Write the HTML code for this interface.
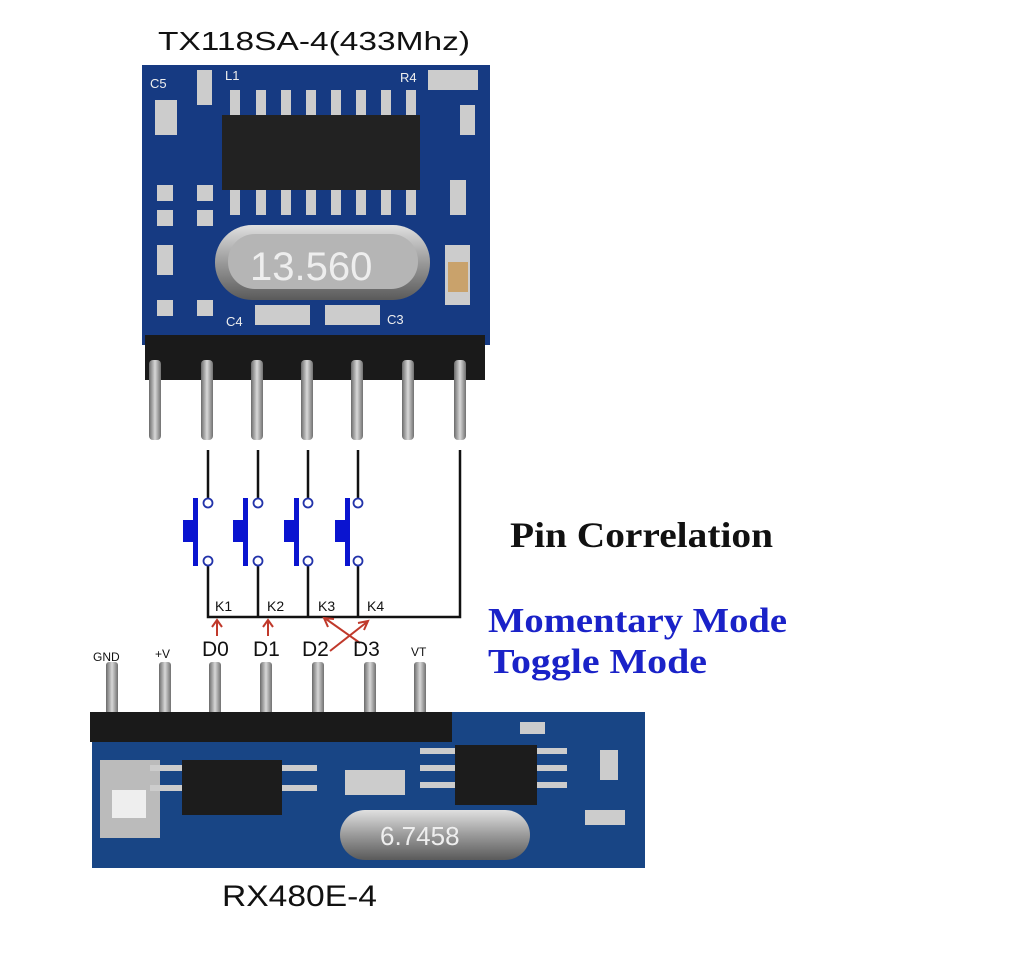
<!DOCTYPE html>
<html><head><style>body{margin:0;background:#fff}svg{display:block}</style></head><body>
<svg width="1020" height="971" viewBox="0 0 1020 971" xmlns="http://www.w3.org/2000/svg">
<defs>
<linearGradient id="pin" x1="0" x2="1"><stop offset="0" stop-color="#6a6a6a"/><stop offset=".5" stop-color="#d8d8d8"/><stop offset="1" stop-color="#707070"/></linearGradient>
<linearGradient id="xt" x1="0" y1="0" x2="0" y2="1"><stop offset="0" stop-color="#e0e0e0"/><stop offset=".5" stop-color="#9a9a9a"/><stop offset="1" stop-color="#5a5a5a"/></linearGradient>
</defs>
<text x="158" y="50" font-family="Liberation Sans,sans-serif" font-size="26" fill="#111" textLength="312" lengthAdjust="spacingAndGlyphs">TX118SA-4(433Mhz)</text>
<!-- TX board -->
<rect x="142" y="65" width="348" height="280" fill="#163a82"/>
<rect x="222" y="115" width="198" height="75" fill="#222"/>
<g fill="#ccc">
<rect x="230" y="90" width="10" height="25"/><rect x="256" y="90" width="10" height="25"/><rect x="281" y="90" width="10" height="25"/><rect x="306" y="90" width="10" height="25"/><rect x="331" y="90" width="10" height="25"/><rect x="356" y="90" width="10" height="25"/><rect x="381" y="90" width="10" height="25"/><rect x="406" y="90" width="10" height="25"/>
<rect x="230" y="190" width="10" height="25"/><rect x="256" y="190" width="10" height="25"/><rect x="281" y="190" width="10" height="25"/><rect x="306" y="190" width="10" height="25"/><rect x="331" y="190" width="10" height="25"/><rect x="356" y="190" width="10" height="25"/><rect x="381" y="190" width="10" height="25"/><rect x="406" y="190" width="10" height="25"/>
<rect x="155" y="100" width="22" height="35"/><rect x="197" y="70" width="15" height="35"/><rect x="157" y="185" width="16" height="16"/><rect x="157" y="210" width="16" height="16"/><rect x="157" y="245" width="16" height="30"/><rect x="157" y="300" width="16" height="16"/><rect x="197" y="185" width="16" height="16"/><rect x="197" y="210" width="16" height="16"/><rect x="197" y="300" width="16" height="16"/><rect x="450" y="180" width="16" height="35"/><rect x="445" y="245" width="25" height="60"/><rect x="428" y="70" width="50" height="20"/><rect x="460" y="105" width="15" height="30"/>
</g>
<rect x="448" y="262" width="20" height="30" fill="#c9a26b"/>
<rect x="215" y="225" width="215" height="75" rx="37" fill="url(#xt)"/>
<rect x="228" y="234" width="190" height="55" rx="27" fill="#b5b5b5"/>
<text x="250" y="280" font-family="Liberation Sans,sans-serif" font-size="40" fill="#eee">13.560</text>
<rect x="255" y="305" width="55" height="20" fill="#ccc"/><rect x="325" y="305" width="55" height="20" fill="#ccc"/>
<g font-family="Liberation Sans,sans-serif" font-size="13" fill="#eee"><text x="150" y="88">C5</text><text x="225" y="80">L1</text><text x="400" y="82">R4</text><text x="226" y="326">C4</text><text x="387" y="324">C3</text></g>
<rect x="145" y="335" width="340" height="45" fill="#1a1a1a"/>
<g fill="url(#pin)">
<rect x="149" y="360" width="12" height="80" rx="4"/><rect x="201" y="360" width="12" height="80" rx="4"/><rect x="251" y="360" width="12" height="80" rx="4"/><rect x="301" y="360" width="12" height="80" rx="4"/><rect x="351" y="360" width="12" height="80" rx="4"/><rect x="402" y="360" width="12" height="80" rx="4"/><rect x="454" y="360" width="12" height="80" rx="4"/>
</g>
<!-- switches -->
<g stroke="#111" stroke-width="2.5" fill="none">
<path d="M208 450V498M258 450V498M308 450V498M358 450V498M460 450V617H208V566M258 617V566M308 617V566M358 617V566"/>
</g>
<g stroke="#2233aa" stroke-width="1.8" fill="#fff">
<circle cx="208" cy="503" r="4.5"/><circle cx="258" cy="503" r="4.5"/><circle cx="308" cy="503" r="4.5"/><circle cx="358" cy="503" r="4.5"/>
<circle cx="208" cy="561" r="4.5"/><circle cx="258" cy="561" r="4.5"/><circle cx="308" cy="561" r="4.5"/><circle cx="358" cy="561" r="4.5"/>
</g>
<g fill="#0a14d0">
<rect x="193" y="498" width="5" height="68"/><rect x="183" y="520" width="11" height="22"/>
<rect x="243" y="498" width="5" height="68"/><rect x="233" y="520" width="11" height="22"/>
<rect x="294" y="498" width="5" height="68"/><rect x="284" y="520" width="11" height="22"/>
<rect x="345" y="498" width="5" height="68"/><rect x="335" y="520" width="11" height="22"/>
</g>
<g font-family="Liberation Sans,sans-serif" font-size="14" fill="#111"><text x="215" y="611">K1</text><text x="267" y="611">K2</text><text x="318" y="611">K3</text><text x="367" y="611">K4</text></g>
<g stroke="#c0392b" stroke-width="2" fill="none">
<path d="M217 636V621M212 627L217 620L222 627"/>
<path d="M268 636V621M263 627L268 620L273 627"/>
<path d="M330 651L367 622M358 623L368 621L364 630"/>
<path d="M360 643L326 619M328 627L324 618L334 619"/>
</g>
<g font-family="Liberation Sans,sans-serif" fill="#111"><text x="202" y="656" font-size="21">D0</text><text x="253" y="656" font-size="21">D1</text><text x="302" y="656" font-size="21">D2</text><text x="353" y="656" font-size="21">D3</text>
<text x="93" y="661" font-size="12">GND</text><text x="155" y="658" font-size="12">+V</text><text x="411" y="656" font-size="12">VT</text></g>
<text x="510" y="547" font-family="Liberation Serif,serif" font-weight="bold" font-size="36" fill="#111" textLength="263" lengthAdjust="spacingAndGlyphs">Pin Correlation</text>
<text x="488" y="632" font-family="Liberation Serif,serif" font-weight="bold" font-size="35" fill="#1a22c8" textLength="299" lengthAdjust="spacingAndGlyphs">Momentary Mode</text>
<text x="488" y="673" font-family="Liberation Serif,serif" font-weight="bold" font-size="35" fill="#1a22c8" textLength="219" lengthAdjust="spacingAndGlyphs">Toggle Mode</text>
<!-- RX board -->
<rect x="92" y="712" width="553" height="156" fill="#184585"/>
<g fill="url(#pin)">
<rect x="106" y="662" width="12" height="55" rx="3"/><rect x="159" y="662" width="12" height="55" rx="3"/><rect x="209" y="662" width="12" height="55" rx="3"/><rect x="260" y="662" width="12" height="55" rx="3"/><rect x="312" y="662" width="12" height="55" rx="3"/><rect x="364" y="662" width="12" height="55" rx="3"/><rect x="414" y="662" width="12" height="55" rx="3"/>
</g>
<rect x="90" y="712" width="362" height="30" fill="#1a1a1a"/>
<rect x="100" y="760" width="60" height="78" fill="#bbb"/><rect x="112" y="790" width="34" height="28" fill="#eee"/>
<rect x="182" y="760" width="100" height="55" fill="#1c1c1c"/>
<rect x="455" y="745" width="82" height="60" fill="#1c1c1c"/>
<g fill="#ccc"><rect x="420" y="748" width="35" height="6"/><rect x="420" y="765" width="35" height="6"/><rect x="420" y="782" width="35" height="6"/><rect x="537" y="748" width="30" height="6"/><rect x="537" y="765" width="30" height="6"/><rect x="537" y="782" width="30" height="6"/><rect x="282" y="765" width="35" height="6"/><rect x="282" y="785" width="35" height="6"/><rect x="150" y="765" width="32" height="6"/><rect x="150" y="785" width="32" height="6"/><rect x="520" y="722" width="25" height="12"/><rect x="600" y="750" width="18" height="30"/><rect x="585" y="810" width="40" height="15"/><rect x="345" y="770" width="60" height="25"/></g>
<rect x="340" y="810" width="190" height="50" rx="25" fill="url(#xt)"/>
<text x="380" y="845" font-family="Liberation Sans,sans-serif" font-size="26" fill="#eee">6.7458</text>
<text x="222" y="906" font-family="Liberation Sans,sans-serif" font-size="30" fill="#111" textLength="155" lengthAdjust="spacingAndGlyphs">RX480E-4</text>
</svg>
</body></html>
